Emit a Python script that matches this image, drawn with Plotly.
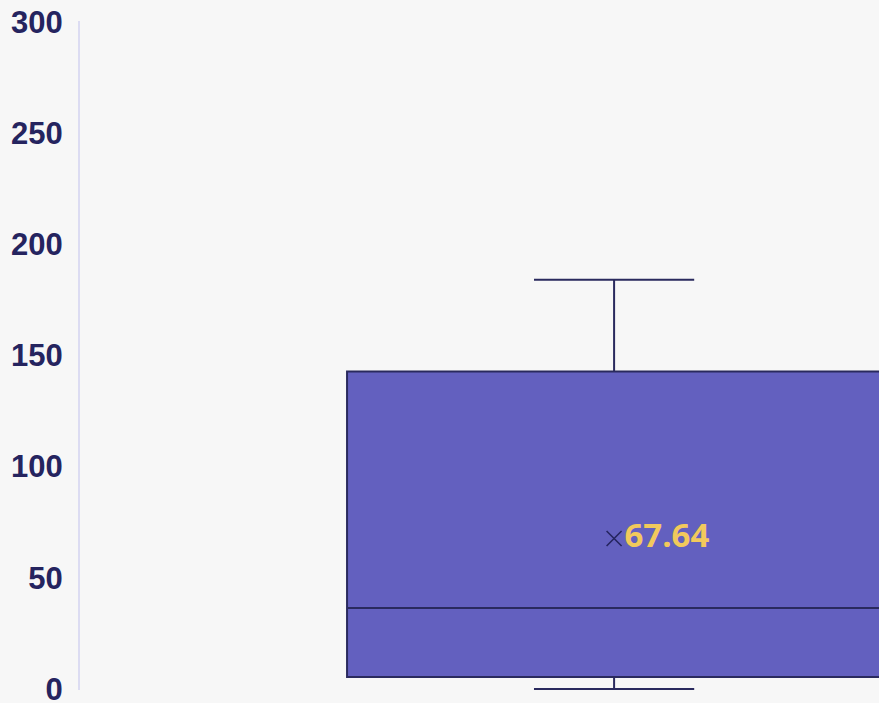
import plotly.graph_objects as go

# Box statistics
categories = ["Series"]
q1_vals = [5.4]
median_vals = [36.4]
q3_vals = [142.8]
lower_vals = [0.0]
upper_vals = [184.1]
mean_vals = [67.64]
y_ticks = [0, 50, 100, 150, 200, 250, 300]

x_pos = [0]

fig = go.Figure()
fig.add_trace(go.Box(
    x=x_pos,
    q1=q1_vals, median=median_vals, q3=q3_vals,
    lowerfence=lower_vals, upperfence=upper_vals,
    width=1.0, whiskerwidth=0.3,
    fillcolor="#6360bf",
    line=dict(color="#2a2a5e", width=2),
    boxpoints=False,
    hoverinfo="skip",
    showlegend=False,
))
fig.add_trace(go.Scatter(
    x=x_pos, y=mean_vals,
    mode="markers+text",
    marker=dict(symbol="x-thin-open", size=15, line=dict(color="#25245f", width=1.6), color="#25245f"),
    text=[f"{v:.2f}" for v in mean_vals],
    textposition="middle right",
    textfont=dict(family="Open Sans", size=33, color="#f2c95c", weight="bold"),
    showlegend=False,
    hoverinfo="skip",
))

fig.update_layout(
    width=879, height=703,
    margin=dict(l=80, r=0, t=21, b=13),
    paper_bgcolor="#f7f7f7",
    plot_bgcolor="#f7f7f7",
    showlegend=False,
)
fig.update_xaxes(visible=False, range=[-1.0, 0.496], fixedrange=True)
fig.update_yaxes(
    range=[-0.5, 300.5],
    tickvals=y_ticks,
    ticktext=[str(t) for t in y_ticks],
    showgrid=False,
    zeroline=False,
    showline=True,
    linecolor="#dcdcf2",
    linewidth=2,
    ticks="outside",
    ticklen=9,
    tickcolor="rgba(0,0,0,0)",
    ticklabeloverflow="allow",
    automargin=False,
    tickfont=dict(family="Liberation Sans", size=31, color="#25245f", weight="bold"),
)

fig.write_html(
    "out.html",
    config={"displayModeBar": False},
    post_script="document.body.style.margin='0';document.body.style.background='#f7f7f7';",
)
